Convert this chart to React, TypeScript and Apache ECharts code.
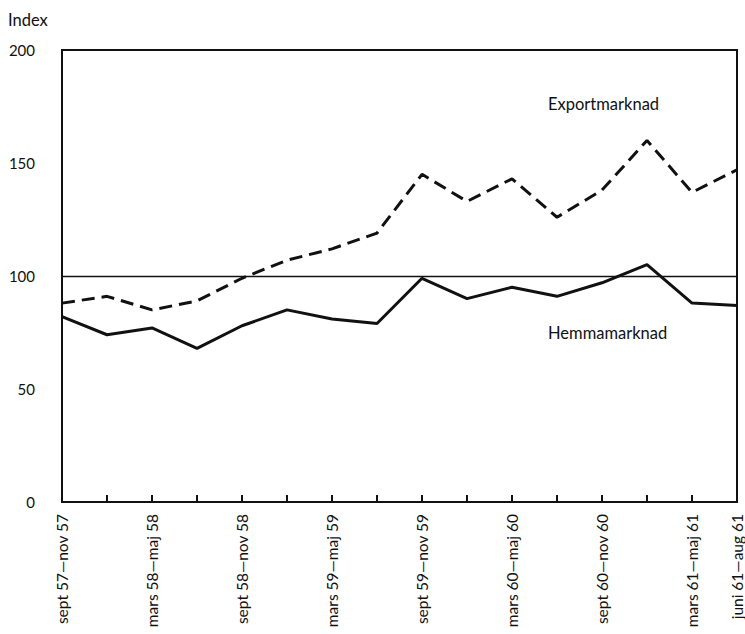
import React, { useEffect, useRef } from "react";
import * as echarts from "echarts";

const categories = [
  "sept 57—nov 57", "dec 57—feb 58", "mars 58—maj 58", "juni 58—aug 58",
  "sept 58—nov 58", "dec 58—feb 59", "mars 59—maj 59", "juni 59—aug 59",
  "sept 59—nov 59", "dec 59—feb 60", "mars 60—maj 60", "juni 60—aug 60",
  "sept 60—nov 60", "dec 60—feb 61", "mars 61—maj 61", "juni 61—aug 61",
];
const exportValues = [88, 91, 85, 89, 99, 107, 112, 119, 145, 133, 143, 126, 138, 160, 137, 147];
const hemmaValues = [82, 74, 77, 68, 78, 85, 81, 79, 99, 90, 95, 91, 97, 105, 88, 87];
const yTicks = [0, 50, 100, 150, 200];
const FONT = "Lato, 'Open Sans', sans-serif";

export default function App() {
  const ref = useRef<HTMLDivElement>(null);
  useEffect(() => {
    const chart = echarts.init(ref.current!, null, { renderer: "svg" });
    chart.setOption({
      animation: false,
      backgroundColor: "#fff",
      grid: {
        left: 62, right: 6, top: 50, bottom: 132,
        show: true, borderColor: "#111", borderWidth: 2,
      },
      xAxis: {
        type: "category",
        data: categories,
        boundaryGap: false,
        axisLine: { lineStyle: { color: "#111", width: 2 } },
        axisTick: { show: true, inside: true, length: 7, interval: 0, lineStyle: { color: "#111", width: 2 } },
        axisLabel: {
          rotate: 90,
          interval: (i: number) => i % 2 === 0 || i === categories.length - 1,
          color: "#111",
          fontFamily: FONT,
          fontSize: 15.5,
          margin: 12,
        },
        splitLine: { show: false },
      },
      yAxis: {
        type: "value",
        min: 0, max: 200, interval: 50,
        axisLine: { show: true, lineStyle: { color: "#111", width: 2 } },
        axisTick: { show: false },
        splitLine: { show: false },
        axisLabel: {
          color: "#111", fontFamily: FONT, fontSize: 15, margin: 27,
          formatter: (v: number) => (yTicks.includes(v) ? String(v) : ""),
        },
      },
      graphic: [
        { type: "text", left: 8, top: 11, style: { text: "Index", fontFamily: FONT, fontSize: 16.5, fill: "#111" } },
        { type: "text", left: 548, top: 95, style: { text: "Exportmarknad", fontFamily: FONT, fontSize: 16.5, fill: "#111" } },
        { type: "text", left: 548, top: 324, style: { text: "Hemmamarknad", fontFamily: FONT, fontSize: 16.5, fill: "#111" } },
      ],
      series: [
        {
          name: "Exportmarknad",
          type: "line",
          data: exportValues,
          symbol: "none",
          lineStyle: { color: "#111", width: 3, type: [13, 7] },
        },
        {
          name: "Hemmamarknad",
          type: "line",
          data: hemmaValues,
          symbol: "none",
          lineStyle: { color: "#111", width: 3 },
          markLine: {
            silent: true,
            symbol: "none",
            label: { show: false },
            lineStyle: { color: "#111", width: 1.3, type: "solid" },
            data: [{ yAxis: 100 }],
          },
        },
      ],
    });
    return () => chart.dispose();
  }, []);
  return <div ref={ref} style={{ width: 745, height: 634, position: "absolute", left: 0, top: 0 }} />;
}
